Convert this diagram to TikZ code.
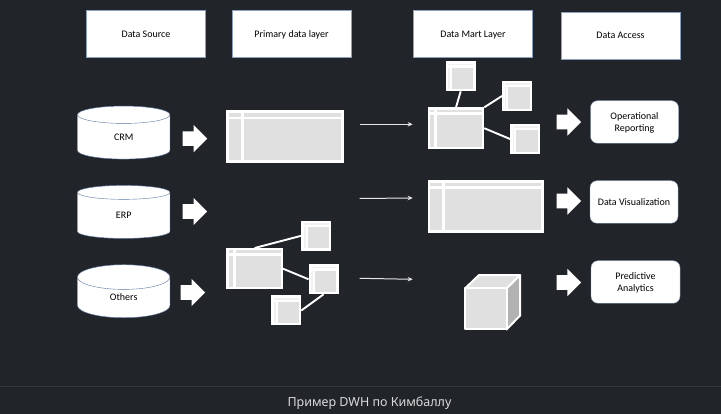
\documentclass[tikz,border=0pt]{standalone}
\usepackage{fontspec}
\setmainfont{Carlito}
\newfontfamily\captionfont{Noto Sans}
\usetikzlibrary{arrows.meta, positioning, shapes.geometric, shapes.arrows}

\definecolor{bgdark}{HTML}{212529}
\definecolor{panegray}{HTML}{E0E0E0}
\definecolor{edgeblue}{HTML}{5A78A5}

\tikzset{
    label text/.style={font=\fontsize{10}{12}\selectfont, text=black, align=center},
    headbox/.style={rectangle, fill=white, draw=edgeblue!70!white, line width=0.4pt, label text, text height=8pt, text depth=1pt, minimum width=119pt, minimum height=47pt, inner sep=0pt, outer sep=0pt},
    accessbox/.style={rectangle, rounded corners=7pt, fill=white, draw=edgeblue!70!white, line width=0.4pt, label text, text depth=0pt, minimum width=88pt, minimum height=42.5pt, inner sep=0pt, outer sep=0pt},
    dbase/.style={cylinder, shape border rotate=90, aspect=0.9, fill=white, draw=edgeblue, line width=0.4pt, label text, minimum width=92.5pt, minimum height=53pt, inner sep=0pt, outer sep=0pt},
    blockarrow/.style={single arrow, fill=white, draw=none, minimum width=27pt, minimum height=24.5pt, single arrow head extend=6.4pt, inner xsep=0pt, inner ysep=7.1pt, outer sep=0pt},
    tablebox/.style={rectangle, fill=white, draw=none, inner sep=0pt, outer sep=0pt},
    smallbox/.style={tablebox, minimum width=30pt, minimum height=30pt},
    pane/.style={fill=panegray},
    linkline/.style={draw=white, line width=1.9pt},
    flowline/.style={draw=white!90!black, line width=1pt, -{Stealth[length=5pt, width=4.5pt]}},
    cubeface/.style={draw=white, line width=2pt, line join=round}
}

\begin{document}
\begin{tikzpicture}[x=1pt, y=-1pt]
    % Background
    \fill[bgdark] (0,0) rectangle (721,414);
    \useasboundingbox (0,0) rectangle (721,414);
    \draw[white!9!bgdark, line width=0.6pt] (0,386.5) -- (721,386.5);

    % Column headers
    \node[headbox] (headSource) at (146,34) {Data Source};
    \node[headbox] (headPrimary) at (291.5,34) {Primary data layer};
    \node[headbox] (headMart) at (473,33.7) {Data Mart Layer};
    \node[headbox] (headAccess) at (620.5,35.3) {Data Access};

    % Sources
    \node[dbase] (srcCrm) at (123.7,137) {CRM};
    \node[dbase] (srcErp) at (123.7,215.5) {ERP};
    \node[dbase] (srcOthers) at (123.7,297.5) {Others};

    % Arrows after sources
    \node[blockarrow] (pushCrm) at (191.3,138.7) {};
    \node[blockarrow] (pushErp) at (191.3,211.5) {};
    \node[blockarrow] (pushOthers) at (189.3,292.5) {};

    % Primary table
    \node[tablebox, minimum width=117.5pt, minimum height=52.5pt] (primTable) at (285,136.7) {};
    \fill[pane] (229,113.3) rectangle (240.7,116.7);
    \fill[pane] (243.5,113.3) rectangle (341,116.7);
    \fill[pane] (229,119.5) rectangle (240.7,160.5);
    \fill[pane] (243.5,119.5) rectangle (341,160.5);

    % Primary hub and its boxes
    \node[tablebox, minimum width=57pt, minimum height=41.3pt] (lowHub) at (254.5,268.7) {};
    \fill[pane] (229,250.5) rectangle (233,253.2);
    \fill[pane] (236,250.5) rectangle (280.5,253.2);
    \fill[pane] (229,256) rectangle (233,287);
    \fill[pane] (236,256) rectangle (280.5,287);
    \node[smallbox] (lowA) at (316.2,235.8) {};
    \node[smallbox] (lowB) at (323.6,279.3) {};
    \node[smallbox] (lowC) at (286.3,310.5) {};
    \draw[linkline] (lowHub.north) -- (lowA.west);
    \draw[linkline] (lowHub.east) -- (lowB.west);
    \draw[linkline] (lowC.east) -- (lowB.south);

    % Flow arrows between layers
    \coordinate (flowA) at (359.7,124.3);
    \coordinate (flowAend) at (412.7,124.3);
    \coordinate (flowB) at (359.7,198.5);
    \coordinate (flowBend) at (412.7,198);
    \coordinate (flowC) at (359.7,278.3);
    \coordinate (flowCend) at (412.7,279.3);
    \draw[flowline] (flowA) -- (flowAend);
    \draw[flowline] (flowB) -- (flowBend);
    \draw[flowline] (flowC) -- (flowCend);

    % Mart hub and its boxes
    \node[tablebox, minimum width=56.5pt, minimum height=41.7pt] (martHub) at (456,128.2) {};
    \fill[pane] (430.3,110) rectangle (434.3,112.5);
    \fill[pane] (437.3,110) rectangle (481.7,112.5);
    \fill[pane] (430.3,115.3) rectangle (434.3,146.7);
    \fill[pane] (437.3,115.3) rectangle (481.7,146.7);
    \node[smallbox] (martA) at (460.7,76.3) {};
    \node[smallbox] (martB) at (517,96) {};
    \node[smallbox] (martC) at (525,139) {};
    \draw[linkline] (martHub.north) -- (martA.south);
    \draw[linkline] (martHub.north east) -- (martB.west);
    \draw[linkline] (martHub.east) -- (martC.west);

    % Panes of the small boxes
    \foreach \boxname in {lowA,lowB,lowC,martA,martB,martC} {
        \fill[pane] ([xshift=6.3pt,yshift=-6.3pt]\boxname.north west) rectangle ([xshift=-2.3pt,yshift=2.3pt]\boxname.south east);
        \fill[panegray!45!white] ([xshift=2.5pt,yshift=-2.3pt]\boxname.north west) rectangle ([xshift=-2.3pt,yshift=-4.2pt]\boxname.north east);
        \fill[panegray!45!white] ([xshift=2.5pt,yshift=-6.3pt]\boxname.north west) rectangle ([xshift=4.3pt,yshift=2.3pt]\boxname.south west);
    }

    % Mart table
    \node[tablebox, minimum width=116.3pt, minimum height=52.7pt] (martTable) at (485.8,206.3) {};
    \fill[pane] (430.3,182.7) rectangle (441.7,186);
    \fill[pane] (445,182.7) rectangle (541,186);
    \fill[pane] (430.3,189.3) rectangle (441.7,230);
    \fill[pane] (445,189.3) rectangle (541,230);

    % Cube
    \draw[cubeface, fill=panegray] (465,288.5) -- (478.8,275.2) -- (520.2,275.2) -- (506.5,288.5) -- cycle;
    \draw[cubeface, fill=white!70!black] (506.5,288.5) -- (520.2,275.2) -- (520.2,315.5) -- (506.5,329.5) -- cycle;
    \draw[cubeface, fill=panegray] (465,288.5) rectangle (506.5,329.5);

    % Arrows before access boxes
    \node[blockarrow] (pullOper) at (565.2,122) {};
    \node[blockarrow] (pullVis) at (565.2,201) {};
    \node[blockarrow] (pullPred) at (565.2,282.5) {};

    % Access boxes
    \node[accessbox] (accOper) at (634.5,122) {Operational\\Reporting};
    \node[accessbox] (accVis) at (634,202) {Data Visualization};
    \node[accessbox, minimum width=89pt] (accPred) at (635.5,282) {Predictive\\Analytics};

    % Caption
    \node[font=\captionfont\fontsize{12.5}{15}\selectfont, text=white!85!black, inner sep=0pt] (caption) at (369.5,403) {Пример DWH по Кимбаллу};
\end{tikzpicture}
\end{document}
